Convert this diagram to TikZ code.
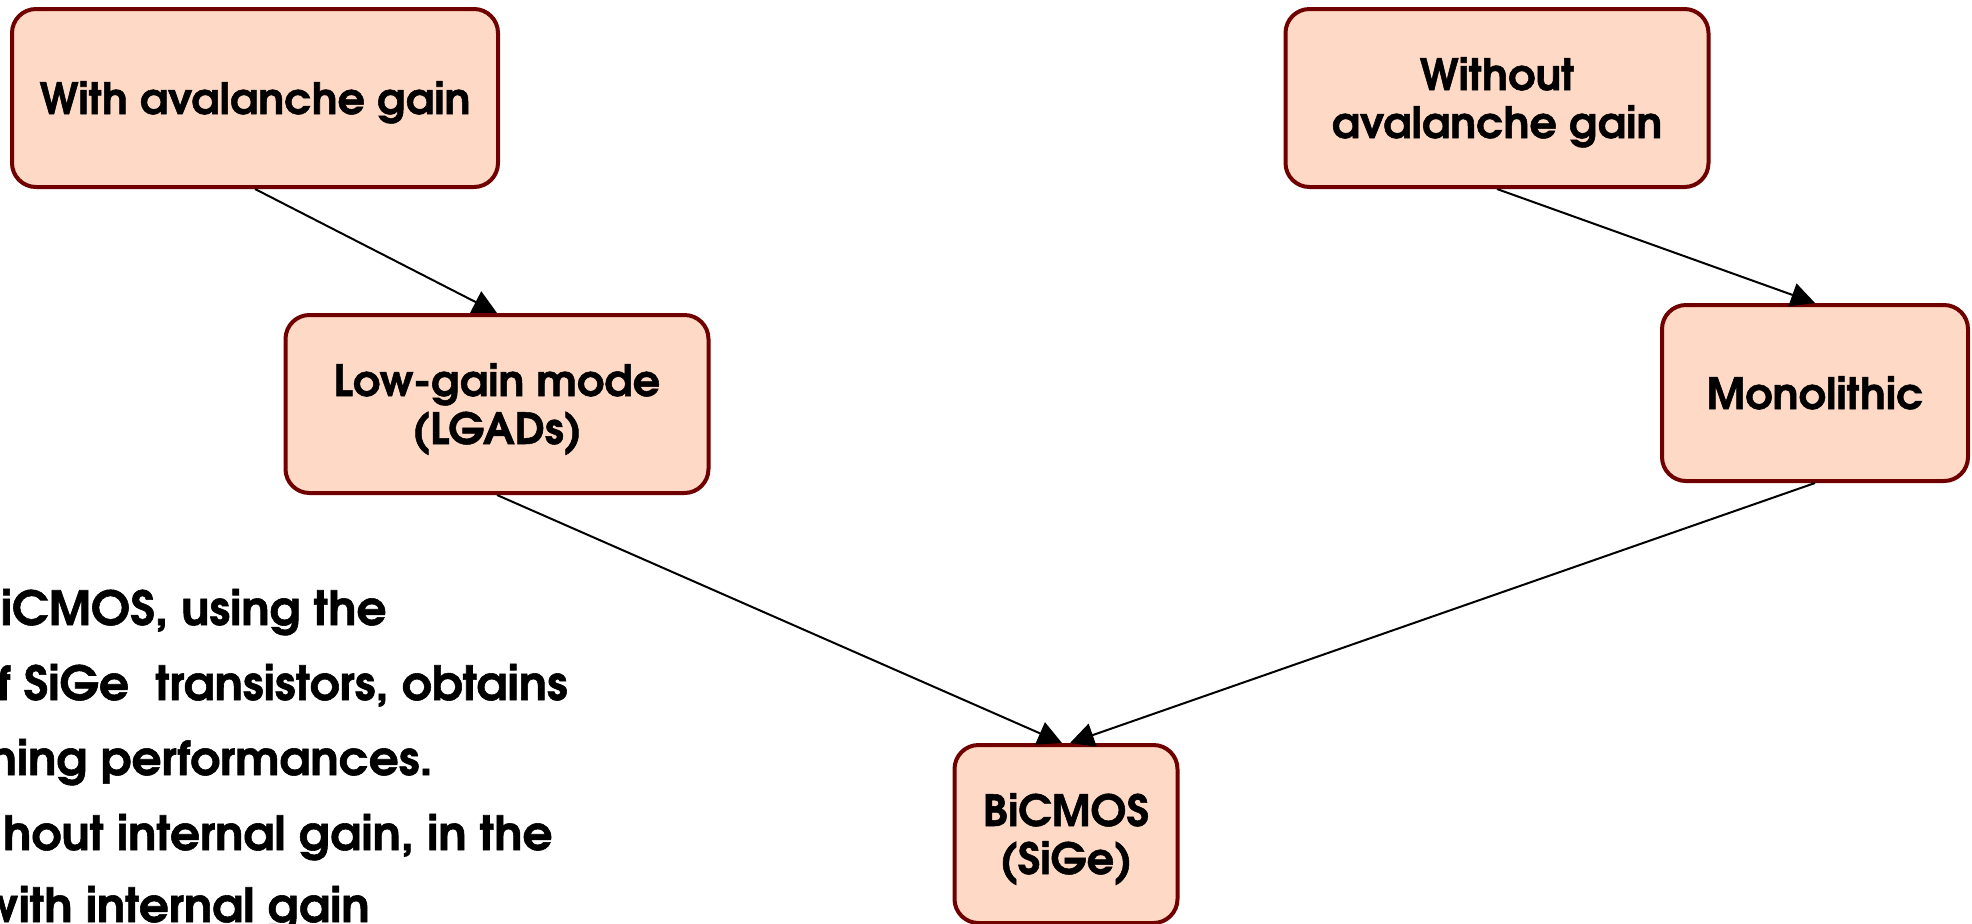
\documentclass[tikz,border=0pt]{standalone}
\usepackage{fontspec}
\setmainfont{TeX Gyre Adventor}[BoldFeatures={FakeBold=1.2}]
\usetikzlibrary{arrows.meta}
\definecolor{boxfill}{RGB}{253,217,198}
\definecolor{boxline}{RGB}{112,0,0}
\begin{document}
\begin{tikzpicture}[x=0.5pt,y=-0.5pt,
  box/.style={draw=boxline, fill=boxfill, line width=2pt, rounded corners=12pt,
    align=center, font=\bfseries\fontsize{21.5}{24}\selectfont, inner sep=0pt,
    text depth=0pt},
  one/.style={text height=16pt},
  two/.style={text height=40pt},
  arr/.style={-{Triangle[length=12pt,width=12pt]}, line width=1pt, black},
  para/.style={anchor=base east, font=\bfseries\fontsize{23.5}{28}\selectfont, inner sep=0pt}]
\useasboundingbox (0,0) rectangle (1972,923);
\clip (0,0) rectangle (1972,923);
\node[box, one, minimum width=243pt, minimum height=89pt] (b1) at (255,98) {With avalanche gain};
\node[box, two, minimum width=211.5pt, minimum height=89pt] (b2) at (497,404) {Low-gain mode\\(LGADs)};
\node[box, two, minimum width=211.5pt, minimum height=89pt] (b3) at (1497,98) {Without\\avalanche gain};
\node[box, one, minimum width=153pt, minimum height=88pt] (b4) at (1815,393) {Monolithic};
\node[box, two, minimum width=111.5pt, minimum height=89pt] (b5) at (1066,834) {BiCMOS\\(SiGe)};
\coordinate (b5l) at ([xshift=-2pt]b5.north);
\coordinate (b5r) at ([xshift=2pt]b5.north);
\draw[arr] (b1.south) -- (b2.north);
\draw[arr] (b3.south) -- (b4.north);
\draw[arr] (b2.south) -- (b5l);
\draw[arr] (b4.south) -- (b5r);
\node[para] (t1) at (387,625) {iCMOS, using the};
\node[para] (t2) at (568,700) {f SiGe \ transistors, obtains};
\node[para] (t3) at (433,775) {ning performances.};
\node[para] (t4) at (553,850) {hout internal gain, in the};
\node[para] (t5) at (370,922) {with internal gain};
\end{tikzpicture}
\end{document}
